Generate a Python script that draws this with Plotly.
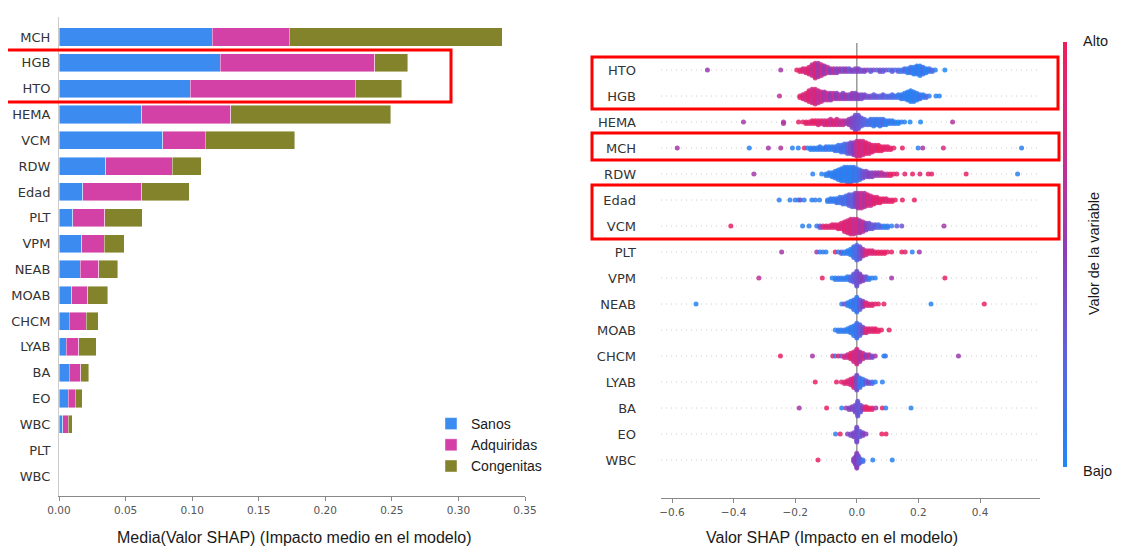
import math
import plotly.graph_objects as go

# the page adds an 8px body margin; the figure starts at (8, 8)
PAGE_W, PAGE_H = 1129, 549
OFF = 8
W, H = PAGE_W - 2 * OFF, PAGE_H - OFF

# ---------------- Left chart: stacked mean |SHAP| per class ----------------
bar_labels = ["MCH", "HGB", "HTO", "HEMA", "VCM", "RDW", "Edad", "PLT", "VPM",
              "NEAB", "MOAB", "CHCM", "LYAB", "BA", "EO", "WBC", "PLT", "WBC"]
sanos = [0.115, 0.121, 0.0985, 0.062, 0.078, 0.035, 0.018, 0.0105, 0.017,
         0.016, 0.0095, 0.0078, 0.0053, 0.0078, 0.0068, 0.003, 0.0, 0.0]
adquiridas = [0.058, 0.116, 0.124, 0.067, 0.032, 0.050, 0.044, 0.024, 0.017,
              0.014, 0.012, 0.0125, 0.0095, 0.0087, 0.0054, 0.0038, 0.0, 0.0]
congenitas = [0.160, 0.025, 0.035, 0.120, 0.067, 0.022, 0.036, 0.028, 0.015,
              0.014, 0.015, 0.009, 0.013, 0.006, 0.0054, 0.003, 0.0, 0.0]
bar_series = ["Sanos", "Adquiridas", "Congenitas"]
bar_ticks = [0.00, 0.05, 0.10, 0.15, 0.20, 0.25, 0.30, 0.35]

# ---------------- Right chart: beeswarm (SHAP value, dot count, feature value) ----------------
swarm_features = ["HTO", "HGB", "HEMA", "MCH", "RDW", "Edad", "VCM", "PLT", "VPM",
                  "NEAB", "MOAB", "CHCM", "LYAB", "BA", "EO", "WBC"]
swarm_ticks = [-0.6, -0.4, -0.2, 0.0, 0.2, 0.4]
swarm_ticktext = ["\u22120.6", "\u22120.4", "\u22120.2", "0.0", "0.2", "0.4"]

hto_shap = [-0.485, -0.247, -0.195, -0.185, -0.175, -0.165, -0.155, -0.145, -0.135, -0.125, -0.115, -0.105,
            -0.095, -0.085, -0.075, -0.065, -0.055, -0.045, -0.035, -0.025, -0.015, -0.005, 0.005, 0.015,
            0.025, 0.035, 0.045, 0.055, 0.065, 0.075, 0.085, 0.095, 0.105, 0.115, 0.125, 0.135, 0.145,
            0.155, 0.165, 0.175, 0.185, 0.195, 0.205, 0.215, 0.225, 0.235, 0.245, 0.255, 0.286]
hto_count = [1, 1, 1, 2, 3, 4, 6, 9, 12, 11, 9, 7, 5, 4, 4, 4, 3, 3, 3, 3, 2, 3, 3, 2,
             2, 1, 2, 1, 1, 2, 2, 1, 1, 2, 1, 2, 2, 3, 4, 5, 6, 7, 8, 6, 4, 3, 2, 1, 1]
hto_value = [0.55, 0.6, 0.95, 0.9, 0.85, 0.8, 0.9, 0.7, 0.85, 0.6, 0.8, 0.55, 0.75, 0.5, 0.7, 0.45, 0.6,
             0.4, 0.55, 0.35, 0.5, 0.4, 0.5, 0.35, 0.45, 0.5, 0.3, 0.45, 0.25, 0.4, 0.3, 0.35, 0.2, 0.3,
             0.15, 0.25, 0.1, 0.2, 0.05, 0.15, 0.05, 0.1, 0.05, 0.15, 0.05, 0.1, 0.2, 0.05, 0.0]

hgb_shap = [-0.251, -0.185, -0.175, -0.165, -0.155, -0.145, -0.135, -0.125, -0.115, -0.105, -0.095,
            -0.085, -0.075, -0.065, -0.055, -0.045, -0.035, -0.025, -0.015, -0.005, 0.005, 0.015, 0.025,
            0.035, 0.045, 0.055, 0.065, 0.075, 0.085, 0.095, 0.105, 0.115, 0.125, 0.135, 0.145, 0.155,
            0.165, 0.175, 0.185, 0.195, 0.205, 0.215, 0.225, 0.235, 0.257, 0.268]
hgb_count = [1, 2, 4, 6, 9, 11, 12, 10, 8, 7, 6, 6, 5, 5, 4, 5, 4, 4, 5, 5, 4, 4, 3, 2, 2, 3, 2, 2,
             3, 2, 2, 3, 2, 3, 4, 5, 7, 9, 8, 6, 4, 3, 2, 1, 1, 1]
hgb_value = [0.7, 0.9, 0.85, 0.8, 0.9, 0.75, 0.85, 0.7, 0.8, 0.6, 0.75, 0.55, 0.7, 0.5, 0.65, 0.45, 0.6,
             0.4, 0.55, 0.45, 0.5, 0.4, 0.45, 0.35, 0.4, 0.3, 0.35, 0.25, 0.3, 0.2, 0.3, 0.15, 0.2, 0.1,
             0.15, 0.05, 0.1, 0.05, 0.1, 0.05, 0.15, 0.05, 0.2, 0.1, 0.05, 0.0]

hema_shap = [-0.368, -0.238, -0.189, -0.175, -0.165, -0.155, -0.145, -0.135, -0.125, -0.115, -0.105,
             -0.095, -0.085, -0.075, -0.065, -0.055, -0.045, -0.035, -0.025, -0.015, -0.005, 0.005, 0.015,
             0.025, 0.035, 0.045, 0.055, 0.065, 0.075, 0.085, 0.095, 0.105, 0.115, 0.125, 0.135, 0.145,
             0.155, 0.173, 0.207, 0.311]
hema_count = [1, 2, 1, 1, 2, 2, 3, 3, 4, 3, 4, 4, 5, 4, 5, 4, 4, 3, 5, 8, 12, 11, 7, 5, 4, 5, 6, 5, 6,
              5, 4, 3, 3, 2, 2, 1, 1, 1, 1, 1]
hema_value = [0.6, 0.65, 0.95, 0.9, 0.95, 0.85, 0.9, 0.95, 0.85, 0.9, 0.8, 0.9, 0.75, 0.85, 0.8, 0.7,
              0.75, 0.6, 0.55, 0.45, 0.4, 0.35, 0.3, 0.25, 0.2, 0.15, 0.1, 0.15, 0.1, 0.2, 0.05, 0.15,
              0.05, 0.1, 0.0, 0.1, 0.05, 0.0, 0.0, 0.65]

mch_shap = [-0.583, -0.349, -0.287, -0.247, -0.209, -0.190, -0.170, -0.160, -0.150, -0.140, -0.130,
            -0.120, -0.110, -0.100, -0.090, -0.080, -0.070, -0.060, -0.050, -0.040, -0.030, -0.020,
            -0.010, 0.000, 0.010, 0.020, 0.030, 0.040, 0.050, 0.060, 0.070, 0.080, 0.090, 0.100, 0.110,
            0.120, 0.148, 0.199, 0.214, 0.281, 0.535]
mch_count = [1, 1, 1, 1, 1, 1, 1, 1, 2, 2, 2, 3, 2, 3, 3, 3, 4, 5, 6, 7, 8, 9, 10, 12, 12, 11, 9, 8,
             6, 5, 5, 4, 3, 3, 2, 1, 1, 1, 1, 1, 1]
mch_value = [0.6, 0.05, 0.6, 0.65, 0.05, 0.05, 0.9, 0.05, 0.05, 0.1, 0.05, 0.1, 0.05, 0.15, 0.05, 0.1,
             0.15, 0.1, 0.2, 0.15, 0.3, 0.4, 0.5, 0.7, 0.85, 0.75, 0.9, 0.8, 0.9, 0.85, 0.95, 0.9, 0.95,
             0.85, 0.95, 0.9, 0.95, 0.05, 0.6, 0.8, 0.05]

rdw_shap = [-0.334, -0.143, -0.114, -0.100, -0.090, -0.080, -0.070, -0.060, -0.050, -0.040, -0.030,
            -0.020, -0.010, 0.000, 0.010, 0.020, 0.030, 0.040, 0.050, 0.060, 0.070, 0.080, 0.090, 0.100,
            0.110, 0.120, 0.130, 0.156, 0.181, 0.205, 0.232, 0.243, 0.355, 0.522]
rdw_count = [1, 1, 1, 2, 3, 4, 6, 8, 10, 11, 12, 12, 11, 10, 8, 6, 5, 4, 4, 3, 3, 3, 2, 2, 2, 1, 1,
             1, 1, 1, 1, 1, 1, 1]
rdw_value = [0.6, 0.05, 0.05, 0.05, 0.1, 0.05, 0.1, 0.05, 0.1, 0.05, 0.1, 0.05, 0.15, 0.1, 0.2, 0.35,
             0.4, 0.5, 0.45, 0.6, 0.55, 0.7, 0.6, 0.8, 0.9, 0.95, 0.9, 0.9, 0.95, 0.9, 0.95, 0.9, 0.95, 0.05]

edad_shap = [-0.252, -0.217, -0.200, -0.190, -0.183, -0.171, -0.146, -0.135, -0.121, -0.095, -0.085,
             -0.075, -0.065, -0.055, -0.045, -0.035, -0.025, -0.015, -0.005, 0.005, 0.015, 0.025, 0.035,
             0.045, 0.055, 0.065, 0.075, 0.085, 0.095, 0.105, 0.115, 0.125, 0.148, 0.187]
edad_count = [1, 1, 1, 1, 1, 1, 1, 1, 1, 2, 3, 3, 4, 5, 6, 7, 9, 10, 11, 12, 12, 11, 9, 8, 6, 5, 4,
              3, 3, 2, 2, 1, 1, 1]
edad_value = [0.05, 0.05, 0.1, 0.05, 0.4, 0.05, 0.05, 0.1, 0.05, 0.05, 0.1, 0.05, 0.15, 0.1, 0.2, 0.15,
              0.3, 0.25, 0.45, 0.6, 0.75, 0.65, 0.85, 0.75, 0.9, 0.85, 0.9, 0.95, 0.85, 0.9, 0.95, 0.9,
              0.95, 0.95]

vcm_shap = [-0.409, -0.176, -0.155, -0.130, -0.120, -0.110, -0.100, -0.090, -0.080, -0.070, -0.060,
            -0.050, -0.040, -0.030, -0.020, -0.010, 0.000, 0.010, 0.020, 0.030, 0.040, 0.050, 0.060,
            0.070, 0.080, 0.090, 0.100, 0.113, 0.130, 0.146, 0.283]
vcm_count = [1, 1, 1, 1, 2, 2, 2, 2, 3, 3, 4, 5, 8, 10, 12, 12, 11, 10, 8, 6, 5, 4, 3, 3, 2, 2, 2,
             1, 1, 1, 1]
vcm_value = [0.95, 0.05, 0.05, 0.1, 0.3, 0.8, 0.9, 0.85, 0.9, 0.85, 0.9, 0.8, 0.9, 0.8, 0.85, 0.7, 0.8,
             0.6, 0.7, 0.5, 0.4, 0.3, 0.35, 0.2, 0.25, 0.05, 0.1, 0.05, 0.3, 0.35, 0.6]

plt_shap = [-0.244, -0.130, -0.120, -0.110, -0.100, -0.070, -0.060, -0.050, -0.040, -0.030, -0.020,
            -0.010, 0.000, 0.010, 0.020, 0.030, 0.040, 0.050, 0.060, 0.070, 0.080, 0.090, 0.100, 0.113,
            0.146, 0.157, 0.180, 0.203]
plt_count = [1, 1, 1, 1, 1, 1, 1, 2, 2, 3, 5, 9, 12, 10, 6, 4, 3, 3, 2, 2, 2, 2, 1, 1, 1, 1, 1, 1]
plt_value = [0.6, 0.6, 0.05, 0.1, 0.05, 0.95, 0.1, 0.3, 0.05, 0.1, 0.05, 0.15, 0.2, 0.35, 0.6, 0.8,
             0.9, 0.85, 0.9, 0.95, 0.9, 0.95, 0.9, 0.95, 0.95, 0.9, 0.05, 0.6]

vpm_shap = [-0.318, -0.112, -0.080, -0.070, -0.060, -0.050, -0.040, -0.030, -0.020, -0.010, 0.000,
            0.010, 0.020, 0.030, 0.040, 0.050, 0.060, 0.113, 0.286]
vpm_count = [1, 1, 1, 2, 2, 2, 2, 3, 4, 7, 12, 7, 4, 3, 2, 1, 1, 1, 1]
vpm_value = [0.7, 0.95, 0.05, 0.05, 0.1, 0.05, 0.1, 0.05, 0.2, 0.3, 0.35, 0.45, 0.5, 0.35, 0.1, 0.05,
             0.05, 0.6, 0.95]

neab_shap = [-0.522, -0.049, -0.040, -0.030, -0.020, -0.010, 0.000, 0.010, 0.020, 0.030, 0.040, 0.050,
             0.060, 0.070, 0.088, 0.241, 0.414]
neab_count = [1, 1, 1, 3, 5, 8, 12, 8, 5, 3, 2, 2, 1, 1, 1, 1, 1]
neab_value = [0.05, 0.05, 0.4, 0.1, 0.05, 0.15, 0.1, 0.3, 0.5, 0.8, 0.9, 0.85, 0.95, 0.9, 0.95, 0.05,
              0.95]

moab_shap = [-0.070, -0.060, -0.050, -0.040, -0.030, -0.020, -0.010, 0.000, 0.010, 0.020, 0.030, 0.040,
             0.050, 0.060, 0.070, 0.080, 0.105]
moab_count = [1, 2, 2, 2, 3, 5, 8, 12, 9, 5, 4, 3, 3, 3, 2, 1, 1]
moab_value = [0.05, 0.1, 0.05, 0.1, 0.05, 0.1, 0.05, 0.15, 0.25, 0.45, 0.8, 0.9, 0.85, 0.95, 0.9, 0.95,
              0.95]

chcm_shap = [-0.248, -0.144, -0.078, -0.070, -0.060, -0.050, -0.040, -0.030, -0.020, -0.010, 0.000,
             0.010, 0.020, 0.030, 0.040, 0.050, 0.060, 0.088, 0.093, 0.330]
chcm_count = [1, 1, 1, 1, 1, 1, 2, 3, 5, 8, 12, 8, 5, 3, 3, 2, 1, 1, 1, 1]
chcm_value = [0.95, 0.6, 0.95, 0.05, 0.9, 0.4, 0.8, 0.7, 0.9, 0.75, 0.8, 0.6, 0.8, 0.5, 0.7, 0.4, 0.6,
              0.05, 0.1, 0.55]

lyab_shap = [-0.135, -0.066, -0.050, -0.040, -0.030, -0.020, -0.010, 0.000, 0.010, 0.020, 0.030, 0.040,
             0.050, 0.060, 0.083]
lyab_count = [1, 1, 1, 2, 3, 5, 8, 12, 8, 5, 3, 2, 2, 1, 1]
lyab_value = [0.95, 0.95, 0.9, 0.85, 0.9, 0.8, 0.85, 0.4, 0.15, 0.1, 0.3, 0.45, 0.2, 0.05, 0.05]

ba_shap = [-0.187, -0.098, -0.049, -0.035, -0.025, -0.015, -0.005, 0.003, 0.012, 0.020, 0.030, 0.040,
           0.050, 0.062, 0.083, 0.094, 0.176]
ba_count = [1, 1, 1, 1, 2, 3, 6, 12, 6, 3, 3, 2, 2, 1, 1, 1, 1]
ba_value = [0.6, 0.95, 0.05, 0.55, 0.5, 0.45, 0.4, 0.35, 0.3, 0.6, 0.9, 0.95, 0.9, 0.6, 0.95, 0.05, 0.05]

eo_shap = [-0.069, -0.054, -0.030, -0.020, -0.010, 0.000, 0.010, 0.020, 0.030, 0.081, 0.095]
eo_count = [1, 1, 1, 2, 4, 12, 5, 3, 1, 1, 1]
eo_value = [0.05, 0.95, 0.5, 0.4, 0.45, 0.4, 0.3, 0.45, 0.5, 0.95, 0.95]

wbc_shap = [-0.126, -0.010, -0.005, 0.000, 0.005, 0.010, 0.020, 0.052, 0.115]
wbc_count = [1, 3, 6, 12, 7, 4, 2, 1, 1]
wbc_value = [0.95, 0.5, 0.45, 0.5, 0.4, 0.3, 0.15, 0.05, 0.05]

swarm_rows = [
    (hto_shap, hto_count, hto_value), (hgb_shap, hgb_count, hgb_value),
    (hema_shap, hema_count, hema_value), (mch_shap, mch_count, mch_value),
    (rdw_shap, rdw_count, rdw_value), (edad_shap, edad_count, edad_value),
    (vcm_shap, vcm_count, vcm_value), (plt_shap, plt_count, plt_value),
    (vpm_shap, vpm_count, vpm_value), (neab_shap, neab_count, neab_value),
    (moab_shap, moab_count, moab_value), (chcm_shap, chcm_count, chcm_value),
    (lyab_shap, lyab_count, lyab_value), (ba_shap, ba_count, ba_value),
    (eo_shap, eo_count, eo_value), (wbc_shap, wbc_count, wbc_value),
]

# ---------------- styling ----------------
BLUE = "rgb(59,139,240)"
PINK = "rgb(211,64,166)"
OLIVE = "rgb(130,131,42)"
bar_colors = [BLUE, PINK, OLIVE]
SHAP_SCALE = [[0.0, "rgb(30,136,245)"], [0.25, "rgb(90,100,225)"], [0.5, "rgb(138,62,188)"],
              [0.75, "rgb(205,45,140)"], [1.0, "rgb(240,30,90)"]]
TICK_FONT = "DejaVu Sans"
TEXT_FONT = "Liberation Sans, Arial"


def px_x(p):
    """page pixel (from left) -> paper fraction"""
    return (p - OFF) / W


def px_y(p):
    """page pixel (from top) -> paper fraction"""
    return 1 - (p - OFF) / H


fig = go.Figure()

# stacked horizontal bars
ypos = list(range(len(bar_labels)))
for name, vals, col in zip(bar_series, [sanos, adquiridas, congenitas], bar_colors):
    fig.add_trace(go.Bar(
        y=ypos, x=vals, orientation="h", name=name, width=0.7,
        marker=dict(color=col, line=dict(color="rgba(255,255,255,0.55)", width=0.8)),
        xaxis="x", yaxis="y", hoverinfo="x+name",
    ))

# beeswarm layout (shap style: stack dots of each bin alternately up/down)
sx, sy, sc = [], [], []
for row, (xs, ns, cs) in enumerate(swarm_rows):
    max_off = max(math.ceil((n - 1) / 2) for n in ns)
    scale = 0.36 / (max_off + 1)
    for xv, n, cv in zip(xs, ns, cs):
        for k in range(n):
            off = math.ceil(k / 2) * (1 if k % 2 else -1)
            sx.append(xv)
            sy.append(row + off * scale)
            sc.append(cv)

fig.add_trace(go.Scatter(
    x=sx, y=sy, mode="markers", xaxis="x2", yaxis="y2", showlegend=False,
    marker=dict(size=5, color=sc, colorscale=SHAP_SCALE, cmin=0, cmax=1, opacity=0.85,
                line=dict(width=0),
                colorbar=dict(x=px_x(1063), xanchor="left",
                              y=px_y(42), yanchor="top", len=425, lenmode="pixels",
                              thickness=4, thicknessmode="pixels", outlinewidth=0,
                              showticklabels=False, ticks="", xpad=0, ypad=0)),
    hoverinfo="x",
))

shapes = []
# dotted row guides + zero line
for row in range(len(swarm_features)):
    shapes.append(dict(type="line", xref="x2 domain", yref="y2", x0=0, x1=1, y0=row, y1=row,
                       line=dict(color="#cccccc", width=1, dash="1px,4px"), layer="below"))
shapes.append(dict(type="line", xref="x2", yref="y2", x0=0, x1=0, y0=-1.04, y1=15.4,
                   line=dict(color="#999999", width=1.5), layer="below"))

# red highlight boxes
for (x0, y0, x1, y1) in [(5, 50, 451, 102), (592, 57, 1058, 109), (592, 133, 1059, 160),
                         (592, 185, 1059, 239)]:
    shapes.append(dict(type="rect", xref="paper", yref="paper",
                       x0=px_x(x0), x1=px_x(x1), y0=px_y(y1), y1=px_y(y0),
                       line=dict(color="#ff0000", width=3), fillcolor="rgba(0,0,0,0)"))

annotations = [
    dict(text="Media(Valor SHAP) (Impacto medio en el modelo)", x=px_x(294), y=px_y(537),
         xref="paper", yref="paper", showarrow=False, xanchor="center", yanchor="middle",
         font=dict(family=TEXT_FONT, size=16, color="#1a1a1a")),
    dict(text="Valor SHAP (Impacto en el modelo)", x=px_x(832), y=px_y(537),
         xref="paper", yref="paper", showarrow=False, xanchor="center", yanchor="middle",
         font=dict(family=TEXT_FONT, size=16, color="#1a1a1a")),
    dict(text="Alto", x=px_x(1081), y=px_y(41), xref="paper", yref="paper", showarrow=False,
         xanchor="left", yanchor="middle", font=dict(family=TEXT_FONT, size=14.5, color="#1a1a1a")),
    dict(text="Bajo", x=px_x(1081), y=px_y(471), xref="paper", yref="paper", showarrow=False,
         xanchor="left", yanchor="middle", font=dict(family=TEXT_FONT, size=14.5, color="#1a1a1a")),
    dict(text="Valor de la variable", x=px_x(1094), y=px_y(254), xref="paper", yref="paper",
         showarrow=False, textangle=-90, xanchor="center", yanchor="middle",
         font=dict(family=TEXT_FONT, size=14.5, color="#1a1a1a")),
]

fig.update_layout(
    width=W, height=H, margin=dict(l=0, r=0, t=0, b=0, autoexpand=False),
    paper_bgcolor="white", plot_bgcolor="white", barmode="stack", bargap=0.3,
    showlegend=True,
    legend=dict(x=px_x(431), y=px_y(408), xanchor="left", yanchor="top", traceorder="normal",
                font=dict(family=TEXT_FONT, size=14, color="#1a1a1a"),
                bgcolor="rgba(0,0,0,0)", tracegroupgap=0, itemwidth=30),
    xaxis=dict(domain=[px_x(59), px_x(525)], range=[0, 0.35], anchor="y", automargin=False,
               tickvals=bar_ticks, ticktext=[f"{t:.2f}" for t in bar_ticks],
               ticks="outside", ticklen=4, tickcolor="#888888", showline=True,
               linecolor="#888888", linewidth=1, showgrid=False, zeroline=False,
               tickfont=dict(family=TICK_FONT, size=10.5, color="#555555")),
    yaxis=dict(domain=[px_y(496), px_y(17)], range=[17.775, -0.775], anchor="x", automargin=False,
               tickvals=ypos, ticktext=bar_labels, ticks="", showgrid=False, zeroline=False,
               showline=True, linecolor="#cccccc", linewidth=1, ticklabelstandoff=5,
               tickfont=dict(family=TICK_FONT, size=13, color="#333333")),
    xaxis2=dict(domain=[px_x(661), px_x(1040)], range=[-0.6357, 0.5948], anchor="y2", automargin=False,
                tickvals=swarm_ticks, ticktext=swarm_ticktext, ticks="outside", ticklen=4,
                tickcolor="#888888", showline=True, linecolor="#888888", linewidth=1,
                showgrid=False, zeroline=False,
                tickfont=dict(family=TICK_FONT, size=10.5, color="#555555")),
    yaxis2=dict(domain=[px_y(498), px_y(43)], range=[16.46, -1.04], anchor="x2", automargin=False,
                tickvals=list(range(len(swarm_features))), ticktext=swarm_features, ticks="",
                showgrid=False, zeroline=False, showline=False, ticklabelstandoff=24,
                tickfont=dict(family=TICK_FONT, size=13, color="#333333")),
    shapes=shapes, annotations=annotations,
)

fig.write_html("out.html")
